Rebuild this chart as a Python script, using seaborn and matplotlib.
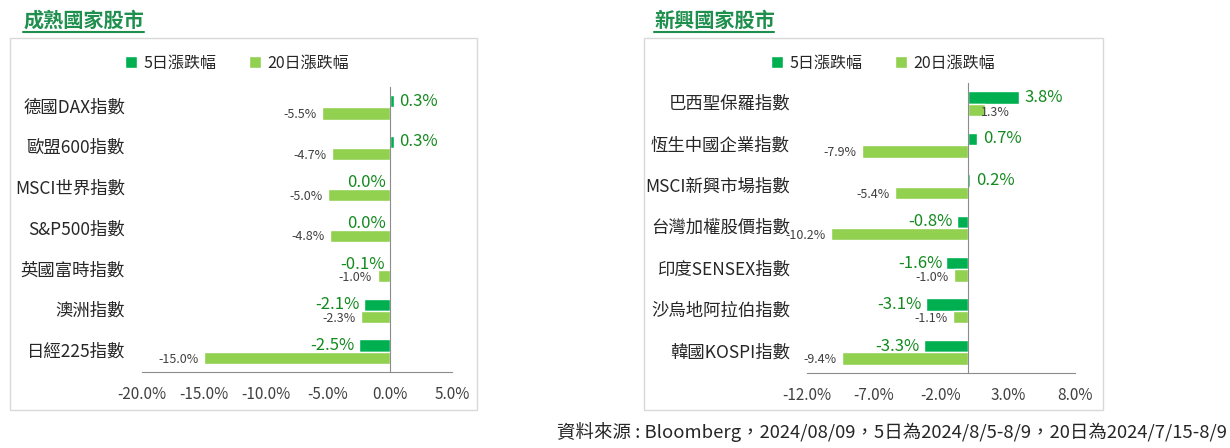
import matplotlib
matplotlib.use("Agg")
from matplotlib import pyplot as plt
from matplotlib import transforms
from matplotlib.patches import Rectangle
from matplotlib.lines import Line2D
import pandas as pd
import seaborn as sns

# data (percent)
mature_names = ["德國DAX指數", "歐盟600指數", "MSCI世界指數", "S&P500指數",
                "英國富時指數", "澳洲指數", "日經225指數"]
mature_5d = [0.3, 0.3, 0.0, 0.0, -0.1, -2.1, -2.5]
mature_20d = [-5.5, -4.7, -5.0, -4.8, -1.0, -2.3, -15.0]
mature_ticks = [-20, -15, -10, -5, 0, 5]

emerging_names = ["巴西聖保羅指數", "恆生中國企業指數", "MSCI新興市場指數", "台灣加權股價指數",
                  "印度SENSEX指數", "沙烏地阿拉伯指數", "韓國KOSPI指數"]
emerging_5d = [3.8, 0.7, 0.2, -0.8, -1.6, -3.1, -3.3]
emerging_20d = [1.3, -7.9, -5.4, -10.2, -1.0, -1.1, -9.4]
emerging_ticks = [-12, -7, -2, 3, 8]

series = ["5日漲跌幅", "20日漲跌幅"]
colors = ["#00b050", "#92d050"]
label_green = "#138a1e"
title_green = "#1f8f4e"
footer = "資料來源 : Bloomberg，2024/08/09，5日為2024/8/5-8/9，20日為2024/7/15-8/9"

sns.set_style("white")
plt.rcParams["font.family"] = ["Noto Sans CJK TC", "DejaVu Sans"]
plt.rcParams["font.weight"] = "medium"

fig = plt.figure(figsize=(12.3, 4.48), dpi=100)
W, H = 1230, 448


def px_box(x0, y0, x1, y1):
    return [x0 / W, 1 - y1 / H, (x1 - x0) / W, (y1 - y0) / H]


def panel(ax, names, v5, v20, ticks, legend_x):
    df = pd.DataFrame({
        "指數": names * 2,
        "期間": [series[0]] * len(names) + [series[1]] * len(names),
        "漲跌幅": list(v5) + list(v20),
    })
    sns.barplot(data=df, y="指數", x="漲跌幅", hue="期間", hue_order=series,
                palette=colors, orient="h", width=0.6, saturation=1,
                ax=ax, legend=True)
    ax.set_xlim(ticks[0], ticks[-1])
    ax.set_ylim(len(names) - 0.5, -0.5)
    ax.set_xticks(ticks)
    ax.set_xticklabels([f"{t:.1f}%" for t in ticks])
    ax.set_xlabel("")
    ax.set_ylabel("")

    for s in ["top", "right"]:
        ax.spines[s].set_visible(False)
    ax.spines["left"].set_position(("data", 0))
    ax.spines["left"].set_color("#8c8c8c")
    ax.spines["bottom"].set_color("#8c8c8c")
    ax.set_yticks([i - 0.5 for i in range(len(names) + 1)])
    ax.set_yticklabels([])
    ax.tick_params(axis="y", length=5, color="#8c8c8c", direction="out")
    ax.tick_params(axis="x", length=5, color="#8c8c8c", direction="out",
                   labelsize=11, labelcolor="#404040", pad=5)
    for t in ax.get_xticklabels():
        t.set_fontweight("normal")

    trans = transforms.offset_copy(ax.get_yaxis_transform(), fig=fig,
                                   x=-17, y=0, units="dots")
    for i, name in enumerate(names):
        ax.text(0, i, name, transform=trans, ha="right", va="center",
                fontsize=12.5, color="#262626")

    # value labels
    for bar, v in zip(ax.containers[0], v5):
        y = bar.get_y() + bar.get_height() / 2
        if v > 0:
            ax.annotate(f"{v:.1f}%", (v, y), xytext=(4, 0), textcoords="offset points",
                        ha="left", va="center", fontsize=12, color=label_green)
        else:
            ax.annotate(f"{v:.1f}%", (v, y), xytext=(-3, 0), textcoords="offset points",
                        ha="right", va="center", fontsize=12, color=label_green)
    for bar, v in zip(ax.containers[1], v20):
        y = bar.get_y() + bar.get_height() / 2
        if v > 0:
            ax.annotate(f"{v:.1f}%", (v, y), xytext=(-3, -2), textcoords="offset points",
                        ha="left", va="center", fontsize=9, color="#404040",
                        fontweight="normal")
        else:
            ax.annotate(f"{v:.1f}%", (v, y), xytext=(-4, -1), textcoords="offset points",
                        ha="right", va="center", fontsize=9, color="#404040",
                        fontweight="normal")

    sns.move_legend(ax, "center", bbox_to_anchor=(legend_x, 1 - 63 / H),
                    bbox_transform=fig.transFigure, ncol=2, frameon=False,
                    title=None, fontsize=11.5, handlelength=0.75, handleheight=0.75,
                    handletextpad=0.4, columnspacing=2.0)
    for t in ax.get_legend().get_texts():
        t.set_color("#262626")


ax1 = fig.add_axes(px_box(142, 87, 452, 372))
panel(ax1, mature_names, mature_5d, mature_20d, mature_ticks, 237 / W)

ax2 = fig.add_axes(px_box(807, 83, 1075, 373))
panel(ax2, emerging_names, emerging_5d, emerging_20d, emerging_ticks, 883 / W)

# frames
for x0, x1 in [(10, 477), (644, 1103)]:
    fig.patches.append(Rectangle((x0 / W, 1 - 410 / H), (x1 - x0) / W, 372 / H,
                                 transform=fig.transFigure, fill=False,
                                 edgecolor="#d9d9d9", lw=1))

# titles with underline
for text, x0, x1 in [("成熟國家股市", 23, 144), ("新興國家股市", 654, 774)]:
    fig.text(x0 / W, 1 - 20 / H, text, ha="left", va="center", fontsize=14.5,
             fontweight="bold", color=title_green)
    fig.lines.append(Line2D([x0 / W, x1 / W], [1 - 32 / H, 1 - 32 / H],
                            transform=fig.transFigure, color=title_green, lw=1.5))

fig.text(1227 / W, 1 - 432 / H, footer, ha="right", va="center",
         fontsize=13.3, color="#262626", fontweight="normal")

fig.savefig("out.png", dpi=100)
